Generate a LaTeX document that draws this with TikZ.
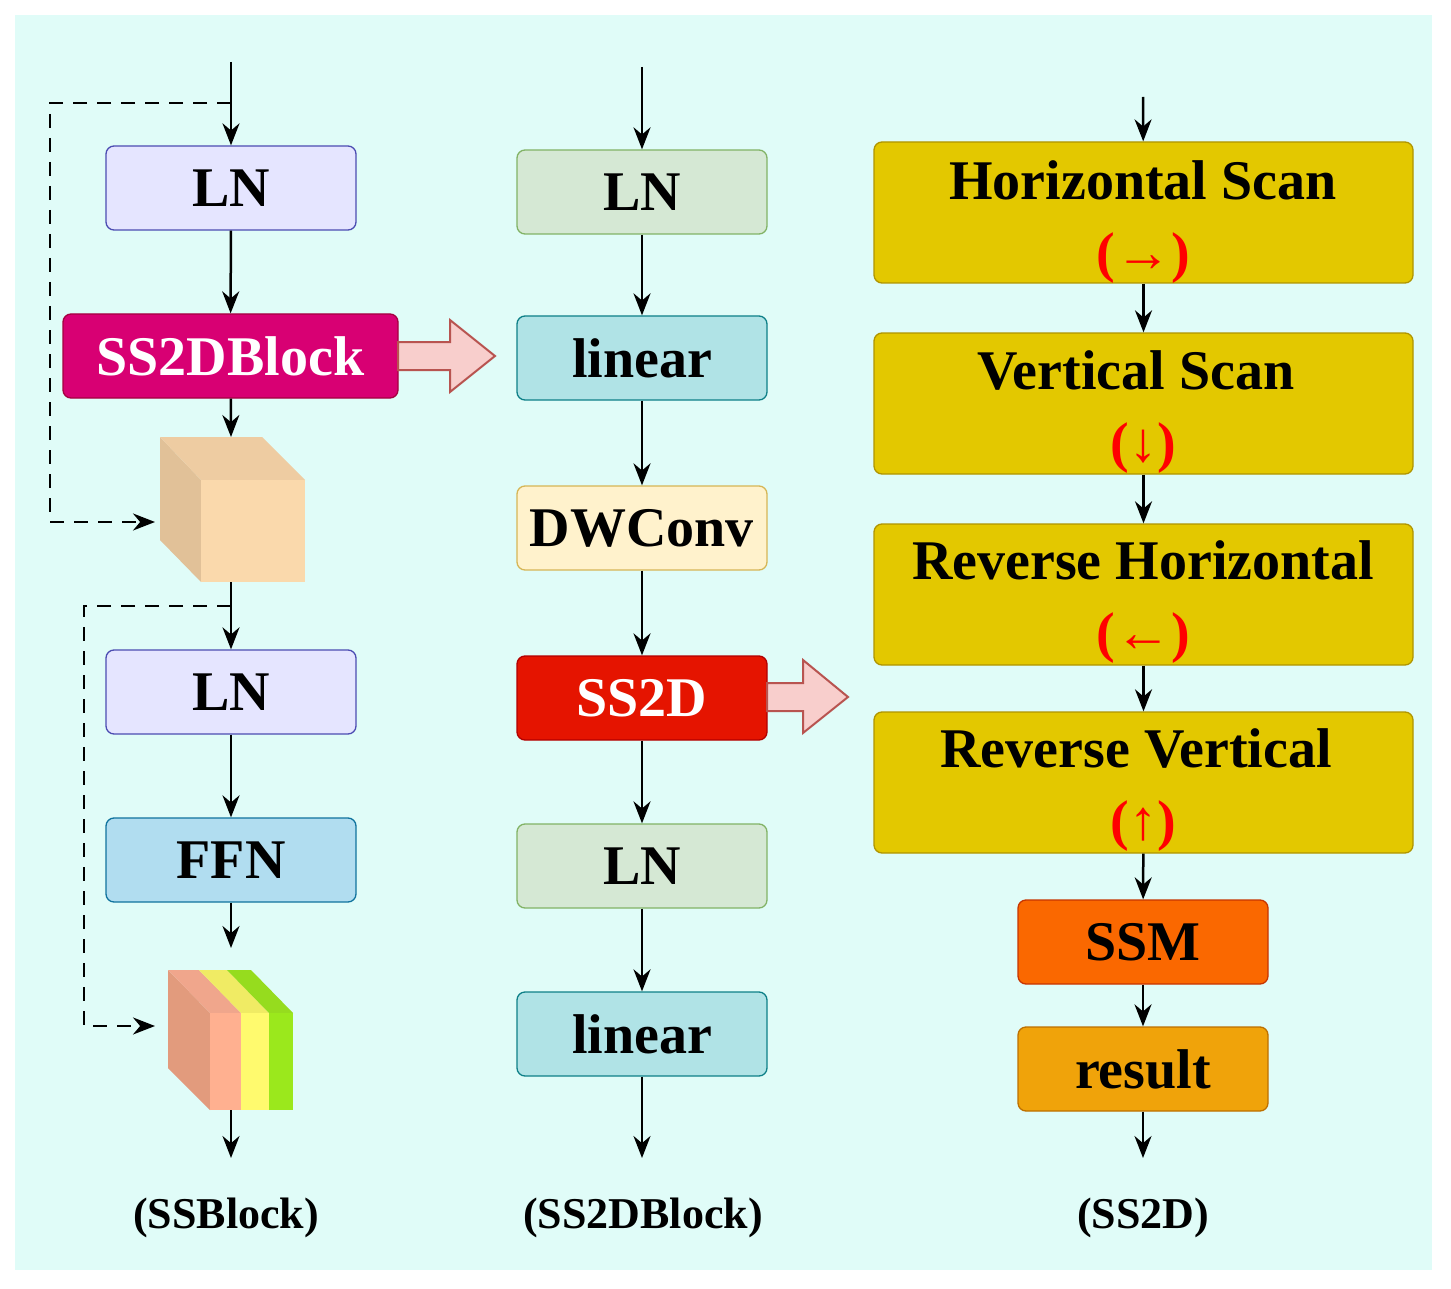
\documentclass[tikz,border=0pt]{standalone}
\usepackage{fontspec}
\setmainfont{Liberation Serif}
\usetikzlibrary{arrows.meta}
\definecolor{bg}{HTML}{E0FCF8}
\begin{document}
\begin{tikzpicture}[x=1pt,y=-1pt,
 box/.style={draw,rounded corners=8pt,line width=1.3pt,inner sep=0pt,font=\fontsize{56}{60}\selectfont\bfseries},
 ar/.style={-{Stealth[length=22pt,width=17pt]},line width=2.5pt},
 da/.style={-{Stealth[length=22pt,width=17pt]},line width=2.5pt,dash pattern=on 14pt off 10pt},
 big/.style={fill={rgb,255:red,248;green,206;blue,204},draw={rgb,255:red,184;green,84;blue,80},line width=2pt},
 lab/.style={font=\fontsize{44}{48}\selectfont\bfseries}]
\useasboundingbox (0,0) rectangle (1451,1289);
\fill[bg] (15,15) rectangle (1432,1270);
% left column
\node[box,fill=blue!10,draw=blue!40!gray,minimum width=250pt,minimum height=84pt] (ln1) at (231,188) {LN};
\node[box,fill={rgb,255:red,216;green,0;blue,115},draw={rgb,255:red,165;green,0;blue,64},text=white,minimum width=335pt,minimum height=84pt] (sb) at (230.5,356) {SS2DBlock};
\node[box,fill=blue!10,draw=blue!40!gray,minimum width=250pt,minimum height=84pt] (ln2) at (231,692) {LN};
\node[box,fill={rgb,255:red,177;green,221;blue,240},draw={rgb,255:red,16;green,115;blue,158},minimum width=250pt,minimum height=84pt] (ffn) at (231,860) {FFN};
% cube 1
\fill[fill={rgb,255:red,225;green,193;blue,152}] (160,437) -- (201,480) -- (201,582) -- (160,540) -- cycle;
\fill[fill={rgb,255:red,238;green,204;blue,162}] (160,437) -- (262,437) -- (305,480) -- (201,480) -- cycle;
\node[fill={rgb,255:red,250;green,217;blue,172},minimum width=104pt,minimum height=102pt,inner sep=0pt] (cube) at (253,531) {};
% cube 2
\fill[fill={rgb,255:red,226;green,155;blue,125}] (168,970) -- (210,1013) -- (210,1110) -- (168,1068) -- cycle;
\fill[fill={rgb,255:red,240;green,166;blue,140}] (168,970) -- (199,970) -- (241,1013) -- (210,1013) -- cycle;
\fill[fill={rgb,255:red,240;green,235;blue,100}] (199,970) -- (227,970) -- (269,1013) -- (241,1013) -- cycle;
\fill[fill={rgb,255:red,150;green,220;blue,30}] (227,970) -- (251,970) -- (293,1013) -- (269,1013) -- cycle;
\fill[fill={rgb,255:red,255;green,176;blue,144}] (210,1013) rectangle (241,1110);
\fill[fill={rgb,255:red,255;green,250;blue,110}] (241,1013) rectangle (269,1110);
\fill[fill={rgb,255:red,155;green,232;blue,28}] (269,1013) rectangle (293,1110);
\coordinate (c2b) at (231,1110);
\coordinate (in1) at (231,62);
\coordinate (d1) at (231,103);
\coordinate (d2) at (231,606);
\coordinate (cb) at (231,582);
\coordinate (out1) at (231,1158);
\draw[ar] (in1) -- (ln1);
\draw[ar] (ln1) -- (sb);
\draw[ar] (sb) -- (231,437);
\draw[ar] (cb) -- (ln2);
\draw[ar] (ln2) -- (ffn);
\draw[ar] (ffn) -- (231,948);
\draw[ar] (c2b) -- (out1);
\draw[da] (d1) -- (50,103) -- (50,522) -- (155,522);
\draw[da] (d2) -- (84,606) -- (84,1026) -- (155,1026);
% middle
\node[box,fill={rgb,255:red,213;green,232;blue,212},draw={rgb,255:red,130;green,179;blue,102},minimum width=250pt,minimum height=84pt] (m1) at (642,192) {LN};
\node[box,fill={rgb,255:red,176;green,227;blue,230},draw={rgb,255:red,14;green,128;blue,136},minimum width=250pt,minimum height=84pt] (m2) at (642,358) {linear};
\node[box,fill={rgb,255:red,255;green,242;blue,204},draw={rgb,255:red,214;green,182;blue,86},minimum width=250pt,minimum height=84pt] (m3) at (642,528) {DWConv};
\node[box,fill={rgb,255:red,229;green,20;blue,0},draw={rgb,255:red,178;green,0;blue,0},text=white,minimum width=250pt,minimum height=84pt] (m4) at (642,698) {SS2D};
\node[box,fill={rgb,255:red,213;green,232;blue,212},draw={rgb,255:red,130;green,179;blue,102},minimum width=250pt,minimum height=84pt] (m5) at (642,866) {LN};
\node[box,fill={rgb,255:red,176;green,227;blue,230},draw={rgb,255:red,14;green,128;blue,136},minimum width=250pt,minimum height=84pt] (m6) at (642,1034) {linear};
\coordinate (in2) at (642,67);
\coordinate (out2) at (642,1158);
\draw[ar] (in2) -- (m1);
\draw[ar] (m1) -- (m2);
\draw[ar] (m2) -- (m3);
\draw[ar] (m3) -- (m4);
\draw[ar] (m4) -- (m5);
\draw[ar] (m5) -- (m6);
\draw[ar] (m6) -- (out2);
% big arrows
\draw[big] (398,342) -- (450,342) -- (450,320) -- (495,356) -- (450,392) -- (450,370) -- (398,370) -- cycle;
\draw[big] (767,683) -- (803,683) -- (803,660) -- (848,697) -- (803,733) -- (803,711) -- (767,711) -- cycle;
% right
\tikzset{yb/.style={box,fill={rgb,255:red,227;green,200;blue,0},draw={rgb,255:red,176;green,149;blue,0},minimum width=539pt,minimum height=141pt}}
\node[yb] (r1) at (1143.5,212.5) {};
\node[yb] (r2) at (1143.5,403.5) {};
\node[yb] (r3) at (1143.5,594.5) {};
\node[yb] (r4) at (1143.5,782.5) {};
\node[box,fill={rgb,255:red,250;green,104;blue,0},draw={rgb,255:red,199;green,53;blue,0},minimum width=250pt,minimum height=84pt] (ssm) at (1143,942) {SSM};
\node[box,fill={rgb,255:red,240;green,163;blue,10},draw={rgb,255:red,189;green,112;blue,0},minimum width=250pt,minimum height=84pt] (res) at (1143,1069) {result};
\coordinate (in3) at (1143,97);
\coordinate (out3) at (1143,1158);
\draw[ar] (in3) -- (r1);
\draw[ar] (r1) -- (r2);
\draw[ar] (r2) -- (r3);
\draw[ar] (r3) -- (r4);
\draw[ar] (r4) -- (ssm);
\draw[ar] (ssm) -- (res);
\draw[ar] (res) -- (out3);
\tikzset{tt/.style={font=\fontsize{56}{60}\selectfont\bfseries},rt/.style={font=\fontsize{56}{60}\selectfont\bfseries,text=red}}
\node[tt] (t1) at (1143,180) {Horizontal Scan};
\node[rt] (a1) at (1143,258) {(→)};
\node[tt] (t2) at (1136,370) {Vertical Scan};
\node[rt] (a2) at (1143,448) {(↓)};
\node[tt] (t3) at (1143,560) {Reverse Horizontal};
\node[rt] (a3) at (1143,638) {(←)};
\node[tt] (t4) at (1136,748) {Reverse Vertical};
\node[rt] (a4) at (1143,826) {(↑)};
% labels
\node[lab] (l1) at (226,1218) {(SSBlock)};
\node[lab] (l2) at (643,1218) {(SS2DBlock)};
\node[lab] (l3) at (1143,1218) {(SS2D)};
\end{tikzpicture}
\end{document}
